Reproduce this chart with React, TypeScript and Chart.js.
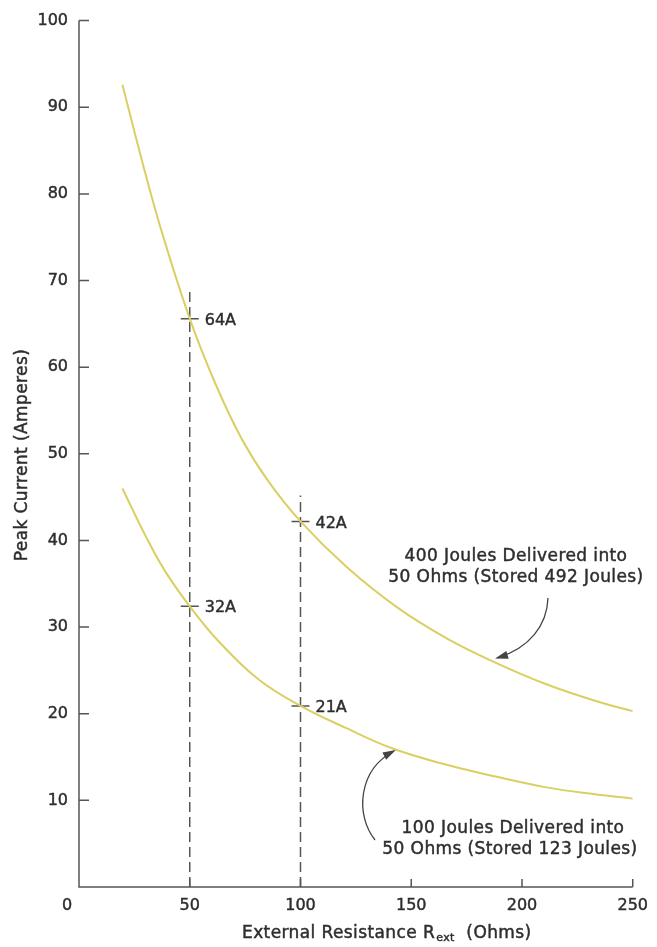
import React, { useEffect, useRef } from "react";
import { Chart, registerables } from "chart.js";

Chart.register(...registerables);

// ---- data ----
const resistance400 = [19.6, 29.3, 37.4, 50, 61.4, 73.3, 85.3, 100, 121, 143.5, 166, 188, 211, 233, 250];
const current400 = [92.6, 83.0, 75.6, 65.6, 58.2, 51.8, 46.9, 42.2, 36.9, 32.3, 28.7, 25.9, 23.4, 21.5, 20.3];

const resistance100 = [19.6, 30.1, 39.0, 50, 62.9, 80.8, 100, 121, 142, 166, 188, 211, 233, 250];
const current100 = [46.0, 40.5, 36.4, 32.4, 28.4, 24.0, 20.9, 18.3, 15.95, 14.1, 12.75, 11.5, 10.7, 10.2];

const guideX = [50, 100];
const guideTop = [68.9, 45.2];

const markerX = [50, 100, 50, 100];
const markerY = [65.6, 42.2, 32.4, 20.9];
const markerLabels = ["64A", "42A", "32A", "21A"];

const xTickValues = [50, 100, 150, 200, 250];
const yTickValues = [10, 20, 30, 40, 50, 60, 70, 80, 90, 100];

const upperNote = ["400 Joules Delivered into", "50 Ohms (Stored 492 Joules)"];
const lowerNote = ["100 Joules Delivered into", "50 Ohms (Stored 123 Joules)"];

const xTitle = "External Resistance R";
const xTitleSub = "ext";
const xTitleTail = "  (Ohms)";
const yTitle = "Peak Current (Amperes)";

// ---- styles ----
const FONT = '"DejaVu Sans", sans-serif';
const TEXT = "#2e2e2e";
const AXIS = "#555555";
const CURVE = "#dacf62";
const STROKE_W = 0.45;

const decor = {
  id: "decor",
  afterDraw(chart: any) {
    const { ctx, scales } = chart;
    const x = scales.x;
    const y = scales.y;
    const x0 = x.getPixelForValue(0);
    const y0 = y.getPixelForValue(0);
    ctx.save();
    // axes
    ctx.strokeStyle = AXIS;
    ctx.lineWidth = 1.5;
    ctx.setLineDash([]);
    ctx.beginPath();
    ctx.moveTo(x0, y.getPixelForValue(100));
    ctx.lineTo(x0, y0);
    ctx.lineTo(x.getPixelForValue(250), y0);
    ctx.stroke();
    // inward tick marks
    ctx.beginPath();
    for (const v of yTickValues) {
      const py = y.getPixelForValue(v);
      ctx.moveTo(x0, py);
      ctx.lineTo(x0 + 10, py);
    }
    for (const v of xTickValues) {
      const px = x.getPixelForValue(v);
      ctx.moveTo(px, y0);
      ctx.lineTo(px, y0 - 8);
    }
    ctx.stroke();

    ctx.fillStyle = TEXT;
    ctx.strokeStyle = TEXT;
    ctx.lineWidth = STROKE_W;
    const text = (t: string, tx: number, ty: number) => {
      ctx.fillText(t, tx, ty);
      ctx.strokeText(t, tx, ty);
    };
    // origin label
    ctx.font = `16px ${FONT}`;
    ctx.textAlign = "center";
    ctx.textBaseline = "middle";
    text("0", x0 - 12, y0 + 19);

    // marker labels
    ctx.textAlign = "left";
    markerLabels.forEach((t, i) => {
      const px = x.getPixelForValue(markerX[i]);
      const py = y.getPixelForValue(markerY[i]);
      text(t, px + 15, py + 2);
    });

    // annotations
    ctx.font = `17px ${FONT}`;
    ctx.letterSpacing = "0.4px";
    ctx.textAlign = "center";
    text(upperNote[0], 516, 557);
    text(upperNote[1], 516, 578);
    text(lowerNote[0], 513, 829);
    text(lowerNote[1], 510, 850);

    // x title with subscript
    ctx.textAlign = "left";
    ctx.textBaseline = "alphabetic";
    let tx = 242;
    const by = 938;
    ctx.font = `17px ${FONT}`;
    text(xTitle, tx, by);
    tx += ctx.measureText(xTitle).width;
    ctx.font = `11px ${FONT}`;
    text(xTitleSub, tx + 1, by + 3);
    tx += ctx.measureText(xTitleSub).width + 1;
    ctx.font = `17px ${FONT}`;
    text(xTitleTail, tx, by);

    // y title
    ctx.save();
    ctx.translate(23, 455);
    ctx.rotate(-Math.PI / 2);
    ctx.textAlign = "center";
    ctx.textBaseline = "middle";
    text(yTitle, 0, 0);
    ctx.restore();
    ctx.letterSpacing = "0px";

    // arrows
    ctx.strokeStyle = "#444444";
    ctx.fillStyle = "#444444";
    ctx.lineWidth = 1.3;
    const arrow = (p0: number[], c1: number[], c2: number[], p3: number[]) => {
      ctx.beginPath();
      ctx.moveTo(p0[0], p0[1]);
      ctx.bezierCurveTo(c1[0], c1[1], c2[0], c2[1], p3[0], p3[1]);
      ctx.stroke();
      const ang = Math.atan2(p3[1] - c2[1], p3[0] - c2[0]);
      const L = 11;
      const W = 4;
      ctx.beginPath();
      ctx.moveTo(p3[0] + Math.cos(ang) * 2, p3[1] + Math.sin(ang) * 2);
      ctx.lineTo(p3[0] - Math.cos(ang) * L + Math.sin(ang) * W, p3[1] - Math.sin(ang) * L - Math.cos(ang) * W);
      ctx.lineTo(p3[0] - Math.cos(ang) * L - Math.sin(ang) * W, p3[1] - Math.sin(ang) * L + Math.cos(ang) * W);
      ctx.closePath();
      ctx.fill();
    };
    arrow([548, 598], [547, 625], [530, 648], [497, 658]);
    arrow([375, 840], [355, 815], [358, 770], [394, 751]);
    ctx.restore();
  },
};

export default function App() {
  const ref = useRef<HTMLCanvasElement>(null);
  useEffect(() => {
    document.body.style.margin = "0";
    const canvas = ref.current!;
    const tickFont = { family: FONT, size: 16 };
    const chart = new Chart(canvas, {
      type: "scatter",
      data: {
        datasets: [
          {
            data: resistance400.map((r, i) => ({ x: r, y: current400[i] })),
            showLine: true,
            borderColor: CURVE,
            borderWidth: 2,
            pointRadius: 0,
            tension: 0.4,
          },
          {
            data: resistance100.map((r, i) => ({ x: r, y: current100[i] })),
            showLine: true,
            borderColor: CURVE,
            borderWidth: 2,
            pointRadius: 0,
            tension: 0.4,
          },
          ...guideX.map((gx, i) => ({
            data: [
              { x: gx, y: 0 },
              { x: gx, y: guideTop[i] },
            ],
            showLine: true,
            borderColor: AXIS,
            borderWidth: 1.5,
            borderDash: [10, 5],
            pointRadius: 0,
          })),
          {
            data: markerX.map((mx, i) => ({ x: mx, y: markerY[i] })),
            showLine: false,
            pointStyle: "line",
            pointRadius: 9,
            borderColor: AXIS,
            borderWidth: 1.5,
          },
        ],
      } as any,
      options: {
        responsive: false,
        animation: false,
        devicePixelRatio: 1,
        events: [],
        layout: { padding: { left: 0, top: 16, right: 19, bottom: 0 } },
        plugins: { legend: { display: false }, tooltip: { enabled: false } },
        scales: {
          x: {
            type: "linear",
            min: 0,
            max: 250,
            grid: { display: false, drawTicks: false, tickLength: 0 },
            border: { display: false },
            afterBuildTicks: (s: any) => {
              s.ticks = xTickValues.map((v) => ({ value: v }));
            },
            afterFit: (s: any) => {
              s.height = 60;
            },
            ticks: {
              font: tickFont,
              color: TEXT,
              textStrokeColor: TEXT,
              textStrokeWidth: STROKE_W,
              padding: 9,
              maxRotation: 0,
              autoSkip: false,
            },
          },
          y: {
            type: "linear",
            min: 0,
            max: 100,
            grid: { display: false, drawTicks: false, tickLength: 0 },
            border: { display: false },
            afterBuildTicks: (s: any) => {
              s.ticks = yTickValues.map((v) => ({ value: v }));
            },
            afterFit: (s: any) => {
              s.width = 79;
            },
            ticks: {
              font: tickFont,
              color: TEXT,
              textStrokeColor: TEXT,
              textStrokeWidth: STROKE_W,
              padding: 11,
              autoSkip: false,
            },
          },
        },
      } as any,
      plugins: [decor],
    });
    return () => chart.destroy();
  }, []);
  return <canvas ref={ref} width={657} height={947} style={{ display: "block" }} />;
}
